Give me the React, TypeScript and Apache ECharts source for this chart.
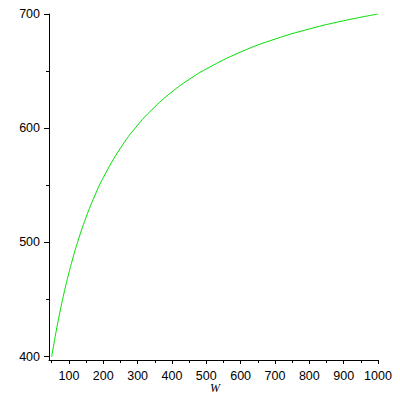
import React, { useEffect, useRef } from "react";
import * as echarts from "echarts";

const wValues = [50, 55, 60, 65, 70, 75, 85, 90, 100, 110, 125, 150, 175, 200, 250, 300, 350, 400, 450, 500, 600, 700, 800, 900, 1000];
const yValues = [400, 409, 417.5, 425.6, 433.4, 440.8, 454.7, 461.1, 473.3, 484.6, 499.9, 522, 540.6, 556.6, 582.5, 602.6, 618.6, 631.8, 642.7, 651.9, 666.7, 678, 686.9, 694.1, 700];
const xMajorTicks = [100, 200, 300, 400, 500, 600, 700, 800, 900, 1000];
const xMinorTicks = [50, 150, 250, 350, 450, 550, 650, 750, 850, 950];
const yMajorTicks = [400, 500, 600, 700];
const yMinorTicks = [450, 550, 650];
const xLabel = "W";

export default function App() {
  const ref = useRef<HTMLDivElement>(null);
  useEffect(() => {
    if (!ref.current) return;
    const chart = echarts.init(ref.current, null, { renderer: "svg" });
    const font = { fontFamily: "Liberation Sans", fontSize: 12.5, color: "#000" };
    const xMin = 42, xMax = 1000, yMin = 397, yMax = 700;
    chart.setOption({
      animation: false,
      backgroundColor: "#fff",
      grid: { left: 49, right: 22, top: 14, bottom: 40, containLabel: false },
      xAxis: [
        {
          type: "value", min: xMin, max: xMax,
          axisLine: { show: true, onZero: false, lineStyle: { color: "#000", width: 1 } },
          axisTick: { show: true, length: 4, customValues: xMajorTicks, lineStyle: { color: "#000" } },
          axisLabel: { show: true, margin: 9, customValues: xMajorTicks, formatter: (v: number) => String(v), ...font },
          splitLine: { show: false },
        },
        {
          type: "value", min: xMin, max: xMax, position: "bottom",
          axisLine: { show: false, onZero: false },
          axisTick: { show: true, length: 3, customValues: xMinorTicks, lineStyle: { color: "#000" } },
          axisLabel: { show: false },
          splitLine: { show: false },
        },
      ],
      yAxis: [
        {
          type: "value", min: yMin, max: yMax,
          axisLine: { show: true, onZero: false, lineStyle: { color: "#000", width: 1 } },
          axisTick: { show: true, length: 5, customValues: yMajorTicks, lineStyle: { color: "#000" } },
          axisLabel: { show: true, margin: 9, customValues: yMajorTicks, formatter: (v: number) => String(v), ...font },
          splitLine: { show: false },
        },
        {
          type: "value", min: yMin, max: yMax, position: "left",
          axisLine: { show: false, onZero: false },
          axisTick: { show: true, length: 3, customValues: yMinorTicks, lineStyle: { color: "#000" } },
          axisLabel: { show: false },
          splitLine: { show: false },
        },
      ],
      graphic: [
        {
          type: "text", left: 210, top: 382,
          style: { text: xLabel, font: "italic 12px 'Liberation Serif'", fill: "#000" },
        },
      ],
      series: [
        {
          type: "line",
          xAxisIndex: 0, yAxisIndex: 0,
          data: wValues.map((w, i) => [w, yValues[i]]),
          smooth: true,
          showSymbol: false,
          lineStyle: { color: "#00dd00", width: 1 },
        },
      ],
    });
    return () => chart.dispose();
  }, []);
  return <div ref={ref} style={{ position: "fixed", left: 0, top: 0, width: 400, height: 400 }} />;
}
